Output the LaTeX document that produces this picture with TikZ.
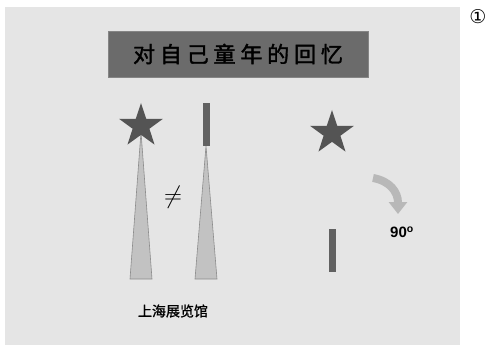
\documentclass[tikz,border=0pt]{standalone}
\usepackage{fontspec}
\setmainfont{Liberation Sans}
\newfontfamily\cjkfont[FakeBold=1.2]{Noto Sans CJK SC}
\newfontfamily\titlefont[LetterSpace=22,FakeBold=1.6]{Noto Sans CJK SC}
\newfontfamily\symfont{DejaVu Sans}
\usepackage{tikz}
\usetikzlibrary{positioning}
\usetikzlibrary{shapes.geometric, arrows.meta}
\usetikzlibrary{calc}
\tikzstyle{starshape}=[star,star points=5,star point ratio=2.6,fill=black!67,draw=none,minimum size=46pt,inner sep=0pt]
\tikzstyle{towerbody}=[fill=black!24,draw=black!45,line width=0.6pt]
\tikzstyle{barshape}=[fill=black!62,draw=none,minimum width=7pt,inner sep=0pt]
\tikzstyle{turnarrow}=[-{Triangle[width=18pt,length=12pt]},line width=8pt,black!28]

\begin{document}
\begin{tikzpicture}[x=1pt,y=-1pt]
	\useasboundingbox (0,0) rectangle (488,345);
	\fill[white] (0,0) rectangle (488,345);
	\fill[black!10] (5,7) rectangle (460,345);
	\node (num) at (478,17) {\symfont\fontsize{19}{19}\selectfont ①};
	\node[fill=black!58,draw=black!48,minimum width=260pt,minimum height=46pt] (title) at (238,54) {\titlefont\fontsize{22}{22}\selectfont 对自己童年的回忆};
	% left: star on the tower
	\draw[towerbody] (141,132) coordinate (T1)--(152,279)--(130,279)--cycle;
	\node[starshape] (S1) at (141,126) {};
	% middle: bar on the tower
	\draw[towerbody] (206,146) coordinate (T2)--(217,279)--(195,279)--cycle;
	\node[barshape,minimum height=43pt,anchor=south] (B1) at (T2) {};
	\node (neq) at (173,197) {\fontsize{30}{30}\selectfont$\neq$};
	\node (name) at (173,311) {\cjkfont\fontsize{14}{14}\selectfont 上海展览馆};
	% right: star and bar, turned by 90
	\node[starshape] (S2) at (332,133) {};
	\node[barshape,minimum height=43pt] (B2) at (332.5,250.5) {};
	\coordinate (R0) at (373,178);
	\coordinate (R1) at (398,214);
	\draw[turnarrow] (R0) .. controls (390,181) and (398,192) .. (R1);
	\node (deg) at (402,232) {\fontsize{15}{15}\selectfont\bfseries 90\textsuperscript{o}};
\end{tikzpicture}
\end{document}
